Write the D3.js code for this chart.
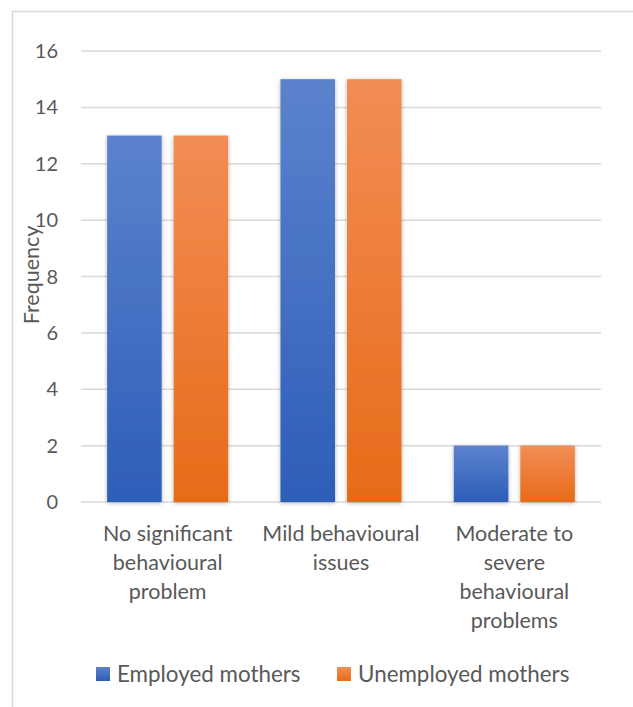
<!DOCTYPE html>
<html><head><meta charset="utf-8">
<script src="https://cdn.jsdelivr.net/npm/d3@7"></script>
<style>body{margin:0;background:#fff}svg{display:block}text{font-family:Lato,"Liberation Sans",Arial,sans-serif;fill:#595959}</style>
</head><body><svg id="c" width="633" height="707"></svg>
<script>
const categories = [["No significant","behavioural","problem"],["Mild behavioural","issues"],["Moderate to","severe","behavioural","problems"]];
const seriesNames = ["Employed mothers","Unemployed mothers"];
const employed = [13, 15, 2];
const unemployed = [13, 15, 2];
const yTicks = [0,2,4,6,8,10,12,14,16];

const svg = d3.select("#c");
const W = 633, H = 707;
const plot = {left:81, right:601, top:51, bottom:502};

svg.append("rect").attr("x",12.5).attr("y",11.5).attr("width",W).attr("height",H)
  .attr("fill","#fff").attr("stroke","#d9d9d9").attr("stroke-width",1.5);

const defs = svg.append("defs");
const grads = [["gBlue","#5c82cd","#2d5eb8"],["gOrange","#f28d55","#e76b18"]];
grads.forEach(([id,a,b])=>{
  const g = defs.append("linearGradient").attr("id",id).attr("x1",0).attr("y1",0).attr("x2",0).attr("y2",1);
  g.append("stop").attr("offset","0%").attr("stop-color",a);
  g.append("stop").attr("offset","100%").attr("stop-color",b);
});
const f = defs.append("filter").attr("id","sh").attr("x","-30%").attr("y","-10%").attr("width","160%").attr("height","120%");
f.append("feDropShadow").attr("dx",0).attr("dy",1).attr("stdDeviation",2.2).attr("flood-color","#000").attr("flood-opacity",0.3);

const y = d3.scaleLinear().domain([0,16]).range([plot.bottom, plot.top]);
const x0 = d3.scaleBand().domain(d3.range(categories.length)).range([plot.left, plot.right]).padding(0);
const x1 = d3.scaleBand().domain([0,1]).range([0, x0.bandwidth()]).paddingInner(0.18).paddingOuter(0.393);

svg.append("g").selectAll("line").data(yTicks).join("line")
  .attr("x1",plot.left).attr("x2",plot.right)
  .attr("y1",d=>y(d)).attr("y2",d=>y(d))
  .attr("stroke","#d9d9d9").attr("stroke-width",1.5);

svg.append("g").selectAll("text").data(yTicks).join("text")
  .attr("x",58).attr("y",d=>y(d)).attr("dy","0.35em").attr("text-anchor","end")
  .attr("font-size",20).text(d=>d);

const series = [employed, unemployed];
const colors = ["url(#gBlue)","url(#gOrange)"];
series.forEach((vals,si)=>{
  svg.append("g").selectAll("rect").data(vals).join("rect")
    .attr("x",(d,i)=>x0(i)+x1(si)).attr("width",x1.bandwidth())
    .attr("y",d=>y(d)).attr("height",d=>y(0)-y(d))
    .attr("fill",colors[si]).attr("filter","url(#sh)");
});

categories.forEach((lines,i)=>{
  const t = svg.append("text").attr("text-anchor","middle").attr("font-size",21.5);
  lines.forEach((ln,k)=>{
    t.append("tspan").attr("x",x0(i)+x0.bandwidth()/2).attr("y",541+k*29).text(ln);
  });
});

svg.append("text").attr("transform","translate(39,275) rotate(-90)")
  .attr("text-anchor","middle").attr("font-size",21.5).text("Frequency");

const legX = [96, 337];
seriesNames.forEach((n,i)=>{
  svg.append("rect").attr("x",legX[i]).attr("y",667).attr("width",14).attr("height",14).attr("fill",colors[i]);
  svg.append("text").attr("x",legX[i]+21).attr("y",674).attr("dy","0.35em").attr("font-size",22.4).text(n);
});
</script></body></html>
